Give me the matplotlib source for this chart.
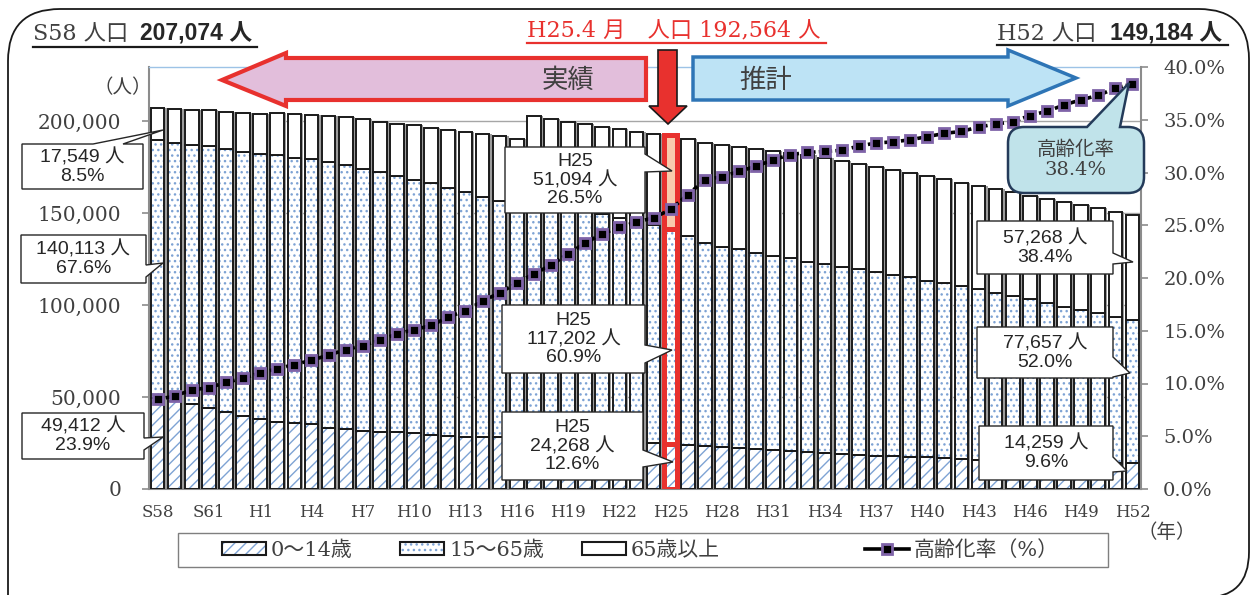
import numpy as np
import matplotlib
matplotlib.use("Agg")
import matplotlib.pyplot as plt
from matplotlib.patches import Polygon, Patch, PathPatch, Rectangle
from matplotlib.lines import Line2D
from matplotlib.path import Path
from matplotlib.transforms import Affine2D
from matplotlib.ticker import FuncFormatter

W, H = 1252, 595
SERIF = ['DejaVu Serif', 'Noto Sans CJK JP']
SANS = ['Liberation Sans', 'Noto Sans CJK JP']
JP = ['Noto Sans CJK JP', 'DejaVu Sans']

# 年 (S58 .. H52)
years = ['S58', 'S59', 'S60', 'S61', 'S62', 'S63'] + ['H%d' % i for i in range(1, 53)]

# 0~14歳
young = [49412, 47990, 46200, 43860, 41850, 39840, 38050, 36580, 35710, 35160,
         33320, 32450, 31690, 31140, 30820, 30270, 29080, 28810, 28530, 28260,
         27990, 27720, 27180, 26900, 26630, 26360, 26090, 25820, 25540, 25000,
         24268, 23750, 23210, 22660, 22120, 21580, 21030, 20490, 19950, 19400,
         18860, 18480, 18100, 17940, 17560, 17230, 16690, 16310, 15760, 15490,
         15220, 15050, 14840, 14670, 14570, 14460, 14350, 14259]
# 15~64歳
working = [140113, 140220, 140930, 142560, 142780, 143320, 143860, 144950, 144030, 144030,
           144240, 143640, 142390, 141150, 139130, 137670, 137070, 134620, 133050, 130610,
           128540, 125280, 134320, 131570, 128480, 125670, 123170, 121440, 119520, 118480,
           117202, 113760, 110650, 109030, 108160, 106850, 105610, 104890, 103590, 102720,
           101960, 100930, 100000, 98370, 97500, 95980, 95110, 94020, 92780, 91200,
           89680, 88050, 86410, 84410, 82720, 81030, 78970, 77657]
# 65歳以上
elderly = [17549, 18480, 19020, 19400, 20270, 21200, 22070, 22660, 24070, 24240,
           25170, 25930, 27020, 27340, 28590, 29620, 29890, 31690, 32290, 33910,
           35330, 37060, 41390, 42630, 44520, 46180, 47650, 48560, 49130, 49630,
           51094, 52550, 54350, 55440, 55760, 56360, 57060, 57070, 57720, 57620,
           57180, 57390, 57070, 57070, 56690, 56910, 56520, 56140, 56140, 56360,
           56360, 56310, 56530, 56900, 56900, 57070, 57230, 57268]
# 高齢化率(%)
aging_rate = [8.5, 8.8, 9.4, 9.6, 10.1, 10.5, 11.0, 11.4, 11.8, 12.2,
              12.7, 13.2, 13.6, 14.1, 14.7, 15.1, 15.5, 16.3, 16.9, 17.8,
              18.6, 19.5, 20.4, 21.2, 22.3, 23.3, 24.2, 24.8, 25.3, 25.7,
              26.5, 27.9, 29.3, 29.6, 30.1, 30.6, 31.2, 31.7, 31.9, 32.0,
              32.1, 32.5, 32.8, 32.9, 33.1, 33.4, 33.7, 33.9, 34.3, 34.6,
              34.8, 35.4, 35.8, 36.4, 36.9, 37.3, 38.0, 38.4]

HL = years.index('H25')

plt.rcParams['hatch.linewidth'] = 1.0
fig = plt.figure(figsize=(W / 100, H / 100), dpi=100)
px = Affine2D().scale(1 / W, -1 / H).translate(0, 1) + fig.transFigure

ax = fig.add_axes([149 / W, 1 - 489 / H, (1141 - 149) / W, (489 - 67) / H])
x = np.arange(len(years))
y0 = np.array(young)
y1 = y0 + np.array(working)
tot = y1 + np.array(elderly)
bw = 0.8
blue = '#7ea3d4'
red = '#e8312e'

# shadow
ax.bar(x + 0.13, tot, bw, color='#9c9c9c', lw=0, zorder=1)
ax.bar(x, young, bw, facecolor='white', edgecolor=blue, hatch='///', lw=0, zorder=2)
ax.bar(x, young, bw, fill=False, edgecolor='#1a1a1a', lw=1.4, zorder=3)
ax.bar(x, working, bw, bottom=y0, facecolor='white', edgecolor=blue, hatch='...', lw=0, zorder=2)
ax.bar(x, working, bw, bottom=y0, fill=False, edgecolor='#1a1a1a', lw=1.4, zorder=3)
ax.bar(x, elderly, bw, bottom=y1, facecolor='white', edgecolor='#1a1a1a', lw=1.4, zorder=3)

# H25 highlight
ax.bar([HL], [young[HL]], bw, fill=False, edgecolor=red, lw=3.6, zorder=4)
ax.bar([HL], [working[HL]], bw, bottom=[y0[HL]], fill=False, edgecolor=red, lw=3.6, zorder=4)
ax.bar([HL], [elderly[HL]], bw, bottom=[y1[HL]], facecolor='#f8cbad', edgecolor=red, lw=3.6, zorder=4)

ax.set_xlim(-0.5, len(years) - 0.5)
ax.set_ylim(0, 229350)
ax.set_yticks([0, 50000, 100000, 150000, 200000])
ax.yaxis.set_major_formatter(FuncFormatter(lambda v, p: '{:,.0f}'.format(v)))
ax.set_axisbelow(True)
ax.yaxis.grid(True, color='#a6a6a6', lw=1)
ax.set_xticks(x[::3])
ax.set_xticklabels(years[::3])
ax.tick_params(axis='x', length=0, pad=11, labelsize=12, labelcolor='#404040')
ax.tick_params(axis='y', length=5, width=1.2, color='#8c8c8c', pad=15,
               labelsize=14.5, labelcolor='#404040')
for lab in ax.get_xticklabels() + ax.get_yticklabels():
    lab.set_fontfamily(SERIF)
ax.spines['top'].set_color('#9dc3e6')
ax.spines['top'].set_linewidth(1)
for s in ['left', 'bottom']:
    ax.spines[s].set_color('#8c8c8c')
    ax.spines[s].set_linewidth(1.5)
ax.spines['right'].set_visible(False)

ax2 = ax.twinx()
ax2.plot(x, aging_rate, color='black', lw=2.6, ls=(0, (1.4, 0.9)), marker='s', ms=6.5,
         mfc='black', mec='#7f63a8', mew=2, zorder=5)
ax2.set_ylim(0, 40)
ax2.set_yticks(np.arange(0, 41, 5))
ax2.yaxis.set_major_formatter(FuncFormatter(lambda v, p: '{:.1f}%'.format(v)))
ax2.tick_params(axis='y', length=5, width=1.2, color='#8c8c8c', pad=11,
                labelsize=14, labelcolor='#404040')
for lab in ax2.get_yticklabels():
    lab.set_fontfamily(SERIF)
for s in ['top', 'left', 'bottom']:
    ax2.spines[s].set_visible(False)
ax2.spines['right'].set_color('#8c8c8c')
ax2.spines['right'].set_linewidth(1.5)


def ptext(xp, yp, s, **kw):
    fig.text(xp, yp, s, transform=px, **kw)


def poly(pts, **kw):
    fig.add_artist(Polygon(pts, closed=True, transform=px, **kw))


def uline(xa, xb, yy, color):
    fig.add_artist(Line2D([xa, xb], [yy, yy], transform=px, color=color, lw=1.6))


# outer frame (bottom edge runs off the picture)
fr = [(8, 640), (8, 61), (8, 9), (60, 9), (1199, 9), (1249, 9), (1249, 59),
      (1249, 552), (1249, 598), (1203, 598), (8, 598)]
fc = [Path.MOVETO, Path.LINETO, Path.CURVE3, Path.CURVE3, Path.LINETO, Path.CURVE3, Path.CURVE3,
      Path.LINETO, Path.CURVE3, Path.CURVE3, Path.LINETO]
fig.add_artist(PathPatch(Path(fr, fc), transform=px, fill=False, edgecolor='#1a1a1a', lw=1.3))

# headers
ptext(33, 34, 'S58 人口', family=SERIF, size=16, color='#404040', va='center')
ptext(140, 34, '207,074 人', family=SANS, weight='bold', size=16.5, color='#262626', va='center')
uline(33, 257, 46.5, '#1a1a1a')
ptext(527, 31, 'H25.4 月　人口 192,564 人', family=SERIF, size=16, color=red, va='center')
uline(527, 826, 43, red)
ptext(997, 34, 'H52 人口', family=SERIF, size=16, color='#404040', va='center')
ptext(1110, 34, '149,184 人', family=SANS, weight='bold', size=16.5, color='#262626', va='center')
uline(997, 1228, 45, '#1a1a1a')

# arrows
poly([(222, 80), (286, 53), (286, 58), (646, 58), (646, 100), (286, 100), (286, 106)],
     facecolor='#e2bedb', edgecolor=red, lw=3, joinstyle='miter')
ptext(568, 80, '実績', family=JP, size=19, color='#404040', ha='center', va='center')
poly([(693, 57), (1008, 57), (1008, 50), (1076, 78), (1008, 106), (1008, 100), (693, 100)],
     facecolor='#bde3f5', edgecolor='#2e75b6', lw=2.5, joinstyle='miter')
ptext(766, 80, '推計', family=JP, size=19, color='#404040', ha='center', va='center')
poly([(658, 50), (677, 50), (677, 106), (687, 106), (668, 124), (649, 106), (658, 106)],
     facecolor=red, edgecolor='#1a1a1a', lw=1.2, joinstyle='miter')

# axis unit labels
ptext(123, 88, '（人）', family=SERIF, size=14, color='#404040', ha='center', va='center')
ptext(1167, 533, '（年）', family=SERIF, size=14, color='#404040', ha='center', va='center')


def box_text(bx0, bx1, by0, by1, txt):
    ptext((bx0 + bx1) / 2, (by0 + by1) / 2, txt, family=SANS, size=14, color='#262626',
          ha='center', va='center', linespacing=1.1, multialignment='center')


def callout_right(bx0, bx1, by0, by1, ya, yb, tip, txt):
    poly([(bx0, by0), (bx1, by0), (bx1, ya), tip, (bx1, yb), (bx1, by1), (bx0, by1)],
         facecolor='white', edgecolor='#262626', lw=1)
    box_text(bx0, bx1, by0, by1, txt)


def callout_top(bx0, bx1, by0, by1, xa, xb, tip, txt):
    poly([(bx0, by0), (xa, by0), tip, (xb, by0), (bx1, by0), (bx1, by1), (bx0, by1)],
         facecolor='white', edgecolor='#262626', lw=1)
    box_text(bx0, bx1, by0, by1, txt)


def lbl(v):
    return '{:,} 人'.format(v)


callout_top(22, 143, 144, 189, 93, 123, (163, 130), lbl(elderly[0]) + '\n8.5%')
callout_right(21, 146, 235, 283, 265, 277, (163, 263), lbl(working[0]) + '\n67.6%')
callout_right(22, 144, 413, 459, 438, 450, (163, 437), lbl(young[0]) + '\n23.9%')
callout_right(505, 645, 147, 213, 154, 172, (672, 171), 'H25\n' + lbl(elderly[HL]) + '\n26.5%')
callout_right(502, 645, 305, 373, 345, 363, (672, 350), 'H25\n' + lbl(working[HL]) + '\n60.9%')
callout_right(502, 643, 412, 480, 450, 467, (673, 462), 'H25\n' + lbl(young[HL]) + '\n12.6%')
callout_right(977, 1113, 221, 274, 253, 264, (1133, 262), lbl(elderly[-1]) + '\n38.4%')
callout_right(977, 1113, 327, 378, 357, 377, (1130, 373), lbl(working[-1]) + '\n52.0%')
callout_right(979, 1113, 426, 480, 457, 472, (1127, 471), lbl(young[-1]) + '\n9.6%')

# 高齢化率 rounded callout
bx0, bx1, by0, by1, r = 1008, 1144, 127, 193, 16
xa, xb, tip = 1087, 1120, (1129, 83)
verts = [(bx0 + r, by0), (xa, by0), tip, (xb, by0), (bx1 - r, by0),
         (bx1, by0), (bx1, by0 + r), (bx1, by1 - r),
         (bx1, by1), (bx1 - r, by1), (bx0 + r, by1),
         (bx0, by1), (bx0, by1 - r), (bx0, by0 + r),
         (bx0, by0), (bx0 + r, by0), (bx0 + r, by0)]
codes = [Path.MOVETO, Path.LINETO, Path.LINETO, Path.LINETO, Path.LINETO,
         Path.CURVE3, Path.CURVE3, Path.LINETO,
         Path.CURVE3, Path.CURVE3, Path.LINETO,
         Path.CURVE3, Path.CURVE3, Path.LINETO,
         Path.CURVE3, Path.CURVE3, Path.CLOSEPOLY]
fig.add_artist(PathPatch(Path(verts, codes), transform=px, facecolor='#c0e3ea',
                         edgecolor='#243b5a', lw=1.8))
ptext(1076, 160, '高齢化率\n{:.1f}%'.format(aging_rate[-1]), family=SERIF, size=14,
      color='#404040', ha='center', va='center', linespacing=1.1, multialignment='center')

# legend: frame plus one entry per slot
fig.add_artist(Rectangle((178, 533), 930, 34, transform=px, fill=False,
                         edgecolor='#7f7f7f', lw=1))
h1 = (Patch(facecolor='white', edgecolor=blue, hatch='///', lw=0),
      Patch(fill=False, edgecolor='#1a1a1a', lw=1.5))
h2 = (Patch(facecolor='white', edgecolor=blue, hatch='...', lw=0),
      Patch(fill=False, edgecolor='#1a1a1a', lw=1.5))
h3 = Patch(facecolor='white', edgecolor='#1a1a1a', lw=1.5)
h4 = Line2D([], [], color='black', lw=2.6, marker='s', ms=6.5, mfc='black', mec='#7f63a8', mew=2)
handles = [h1, h2, h3, h4]
labels = ['0〜14歳', '15〜65歳', '65歳以上', '高齢化率（%）']
slots = [222, 400, 582, 865]
for hd, lb, sx in zip(handles, labels, slots):
    lg = fig.legend([hd], [lb], loc='center left', bbox_to_anchor=(sx / W, 1 - 550 / H),
                    frameon=False, prop={'family': SERIF, 'size': 15}, handlelength=2.1,
                    handleheight=0.6, handletextpad=0.25, borderpad=0, borderaxespad=0)
    for t in lg.get_texts():
        t.set_color('#404040')

fig.savefig('out.png', dpi=100)
